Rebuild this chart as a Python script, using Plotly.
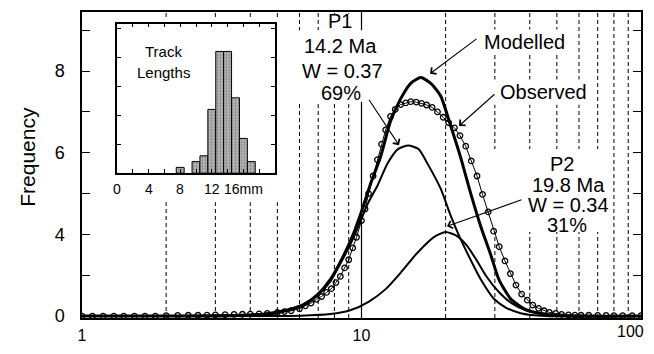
import plotly.graph_objects as go

# ---------------- data ----------------
# Observed age spectrum (open circles)
obs_age = [1.0, 1.09, 1.19, 1.3, 1.41, 1.54, 1.68, 1.83,
           2.0, 2.2, 2.4, 2.6, 2.8, 3.0, 3.25, 3.5, 3.75, 4.0, 4.3, 4.6,
           5.0, 5.3, 5.6, 6.0, 6.3, 6.6, 6.9, 7.2, 7.5, 7.8, 8.1, 8.4,
           8.7, 9.0, 9.3, 9.6, 10.0, 10.3, 10.6, 11.0, 11.4, 11.8, 12.2,
           12.7, 13.2, 13.8, 14.4, 15.0, 15.7, 16.4, 17.1, 17.9, 18.7,
           19.6, 20.5, 21.5, 22.5, 23.6, 24.7, 25.9, 27.1, 28.4, 29.7,
           31.1, 32.6, 34.1, 35.7, 37.4, 39.2, 41, 43, 45, 47, 49.5, 52,
           55, 58, 61, 65, 70, 75, 80, 86, 93, 100]
obs_freq = [0, 0, 0, 0, 0, 0, 0, 0,
            0.01, 0.015, 0.02, 0.02, 0.025, 0.03, 0.035, 0.04, 0.045, 0.05, 0.055, 0.065,
            0.09, 0.11, 0.13, 0.18, 0.25, 0.32, 0.41, 0.48, 0.58, 0.67, 0.82, 0.97,
            1.18, 1.38, 1.67, 1.93, 2.34, 2.62, 3.0, 3.43, 3.83, 4.21, 4.56,
            4.89, 5.06, 5.18, 5.22, 5.25, 5.24, 5.21, 5.17, 5.11, 5.0,
            4.87, 4.74, 4.61, 4.42, 4.16, 3.8, 3.43, 2.98, 2.55, 2.08,
            1.7, 1.35, 1.04, 0.76, 0.54, 0.39, 0.27, 0.19, 0.13, 0.09, 0.065, 0.04,
            0.03, 0.025, 0.02, 0.02, 0.015, 0.015, 0.01, 0.01, 0.01, 0.01]

# Modelled spectrum (sum of peaks)
mod_age = [1.0, 2.65, 4.0, 4.72, 5.57, 6.2, 6.95, 7.74, 8.61, 9.35, 10.1, 10.8,
           11.7, 12.7, 13.8, 15.0, 16.3, 17.7, 19.2, 20.8, 22.6, 24.6, 26.7,
           29.0, 31.0, 34.2, 38.7, 46.4, 61, 100]
mod_freq = [0, 0, 0.02, 0.07, 0.17, 0.28, 0.52, 0.90, 1.47, 2.01, 2.65, 3.26,
            3.90, 4.77, 5.32, 5.70, 5.84, 5.70, 5.39, 4.68, 3.90, 3.0, 2.2,
            1.5, 0.9, 0.42, 0.16, 0.04, 0, 0]

# Peak P1 (14.2 Ma)
p1_age = [1.0, 2.65, 4.0, 4.72, 5.57, 6.2, 6.95, 7.74, 8.61, 9.35, 10.1, 10.6,
          11.4, 12.4, 13.5, 14.7, 16.0, 17.2, 19.2, 20.8, 22.6, 24.6, 26.7,
          29.7, 32.8, 37.1, 45.6, 100]
p1_freq = [0, 0, 0.01, 0.04, 0.15, 0.27, 0.50, 0.85, 1.42, 1.91, 2.46, 2.79,
           3.19, 3.74, 4.09, 4.18, 4.09, 3.74, 3.12, 2.48, 1.89, 1.37, 0.90,
           0.43, 0.21, 0.07, 0, 0]

# Peak P2 (19.8 Ma)
p2_age = [1.0, 4.0, 6.04, 7.74, 9.17, 10.6, 12.2, 13.8, 15.8, 18.2, 20.0, 22.0,
          23.8, 25.8, 28.0, 31.0, 34.2, 38.7, 47.4, 100]
p2_freq = [0, 0, 0.01, 0.05, 0.15, 0.35, 0.66, 1.06, 1.54, 1.94, 2.06, 1.96,
           1.73, 1.37, 0.97, 0.59, 0.33, 0.14, 0.02, 0]

# Inset: track length histogram
track_len = [8, 10, 11, 12, 13, 14, 15, 16, 17]
track_count = [1, 2, 3, 11, 21, 21, 13, 6, 2]

y_tickvals = [0, 1, 2, 3, 4, 5, 6, 7]
y_ticktext = ["0", "", "4", "", "6", "", "8", ""]
x_tickvals = [1, 10]
x_ticktext = ["1", "10"]
x_last_label = "100"
grid_dashed = [2, 3, 4, 5, 6, 7, 8, 9, 20, 30, 40, 50, 60, 70, 80, 90]
grid_solid = [10]
inset_tickvals = [0, 4, 8, 12, 16]
inset_ticktext = ["0", "4", "8", "12", "16mm"]

# ---------------- layout geometry (screen pixels) ----------------
OFF = 8                                  # default page margin around the plot div
SW, SH = 654, 354                        # window size
W, H = SW - 2 * OFF, SH - 2 * OFF        # figure fits the window exactly
L, R, T, B = 82, 641, 10, 327
PW, PH = R - L, B - T


def fx(p):
    return (p - L) / PW


def fy(p):
    return (B - p) / PH


FONT = "Liberation Sans, Arial, sans-serif"

fig = go.Figure()

line_style = dict(color="black", shape="spline", smoothing=0.6)
fig.add_trace(go.Scatter(x=p2_age, y=p2_freq, mode="lines",
                         line=dict(width=2, **line_style), hoverinfo="skip"))
fig.add_trace(go.Scatter(x=p1_age, y=p1_freq, mode="lines",
                         line=dict(width=2, **line_style), hoverinfo="skip"))
fig.add_trace(go.Scatter(x=mod_age, y=mod_freq, mode="lines",
                         line=dict(width=3, **line_style), hoverinfo="skip"))
fig.add_trace(go.Scatter(x=obs_age, y=obs_freq, mode="lines+markers",
                         line=dict(width=1, color="black"),
                         marker=dict(symbol="circle-open", size=5.5, color="black",
                                     line=dict(width=1.3, color="black")),
                         hoverinfo="skip"))

# inset histogram
fig.add_trace(go.Bar(x=track_len, y=track_count, width=1, xaxis="x2", yaxis="y2",
                     marker=dict(color="#a8a8a8", line=dict(color="black", width=1),
                                 pattern=dict(shape=".", fgcolor="#4a4a4a",
                                              bgcolor="#b8b8b8", size=3, solidity=0.35)),
                     hoverinfo="skip"))

shapes = []
# vertical grid lines
for v in grid_dashed:
    shapes.append(dict(type="line", xref="x", yref="paper", x0=v, x1=v, y0=0, y1=1,
                       line=dict(color="black", width=1, dash="4px,3px"), layer="below"))
for v in grid_solid:
    shapes.append(dict(type="line", xref="x", yref="paper", x0=v, x1=v, y0=0, y1=1,
                       line=dict(color="black", width=1.2), layer="below"))
# white masks behind the labels (hide the grid there)
masks = [
    (108, 285, 16, 207),   # inset
    (326, 356, 12, 29),    # "P1"
    (296, 388, 29, 103),   # P1 text block
    (478, 570, 28, 54),    # Modelled
    (494, 592, 80, 106),   # Observed
    (490, 610, 152, 238),  # P2 block
]
for x0, x1, y0, y1 in masks:
    shapes.append(dict(type="rect", xref="paper", yref="paper",
                       x0=fx(x0), x1=fx(x1), y0=fy(y1), y1=fy(y0),
                       fillcolor="white", line=dict(width=0), layer="below"))

ann = []
for s, x, y in [("P1", 340, 19), ("14.2 Ma", 340, 45), ("W = 0.37", 342, 71),
                ("69%", 341, 94), ("Modelled", 524, 41), ("Observed", 543, 93),
                ("P2", 562, 167), ("19.8 Ma", 568, 189), ("W = 0.34", 568, 210),
                ("31%", 567, 231)]:
    ann.append(dict(text=s, x=fx(x), y=fy(y), xref="paper", yref="paper",
                    xanchor="center", yanchor="middle", showarrow=False,
                    font=dict(family=FONT, size=20, color="black")))
for s, x, y in [("Track", 163, 51), ("Lengths", 163, 73)]:
    ann.append(dict(text=s, x=fx(x), y=fy(y), xref="paper", yref="paper",
                    xanchor="center", yanchor="middle", showarrow=False,
                    font=dict(family=FONT, size=15, color="black")))
ann.append(dict(text="Frequency", x=fx(28), y=fy(160), xref="paper", yref="paper",
                xanchor="center", yanchor="middle", showarrow=False, textangle=-90,
                font=dict(family=FONT, size=21, color="black")))
# last x tick label, kept inside the page
ann.append(dict(text=x_last_label, x=fx(OFF + W), y=fy(341), xref="paper", yref="paper",
                xanchor="right", yanchor="middle", showarrow=False,
                font=dict(family=FONT, size=16, color="black")))
# inset tick labels placed on the inset's own x scale
for v, s in zip(inset_tickvals, inset_ticktext):
    ann.append(dict(text=s, x=v, xref="x2", y=fy(193), yref="paper",
                    xanchor="center", yanchor="middle", showarrow=False,
                    font=dict(family=FONT, size=14, color="black")))
# arrows: (tail x, tail y, head x, head y)
for tx, ty, hx, hy in [(478, 38, 430, 74), (496, 95, 459, 128),
                       (368, 101, 399, 148), (523, 205, 447, 232)]:
    ann.append(dict(text="", x=fx(hx), y=fy(hy), xref="paper", yref="paper",
                    ax=tx - hx, ay=ty - hy, showarrow=True, arrowhead=4,
                    arrowsize=1.4, arrowwidth=1.1, arrowcolor="black", standoff=0))

fig.update_layout(
    width=W, height=H,
    margin=dict(l=L - OFF, r=(OFF + W) - R, t=T - OFF, b=(OFF + H) - B, pad=0),
    paper_bgcolor="white", plot_bgcolor="white",
    showlegend=False,
    font=dict(family=FONT, color="black"),
    shapes=shapes, annotations=ann,
    xaxis=dict(type="log", range=[0, 2], tickvals=x_tickvals, ticktext=x_ticktext,
               ticks="", showline=True, mirror=True, linecolor="black", linewidth=1.5,
               showgrid=False, tickfont=dict(size=16), ticklabelstandoff=2,
               zeroline=False),
    yaxis=dict(range=[-0.047, 7.447], tickvals=y_tickvals, ticktext=y_ticktext,
               ticks="inside", ticklen=8, tickwidth=1.2, tickcolor="black",
               showline=True, mirror="ticks", linecolor="black", linewidth=1.5,
               showgrid=False, zeroline=False, tickfont=dict(size=18),
               ticklabelstandoff=12),
    xaxis2=dict(domain=[fx(117), fx(275)], anchor="y2", range=[0, 20],
                tickvals=inset_tickvals, showticklabels=False,
                ticks="inside", ticklen=4, tickcolor="black", showline=True,
                mirror="ticks", linecolor="black", linewidth=1.5, showgrid=False,
                minor=dict(dtick=2, ticks="inside", ticklen=4, tickcolor="black",
                           showgrid=False),
                zeroline=False),
    yaxis2=dict(domain=[fy(177), fy(22)], anchor="x2", range=[0, 25.8], dtick=5,
                ticks="inside", ticklen=4, tickcolor="black", showline=True,
                mirror="ticks", linecolor="black", linewidth=1.5, showgrid=False,
                zeroline=False, showticklabels=False),
)

fig.write_html("out.html")
